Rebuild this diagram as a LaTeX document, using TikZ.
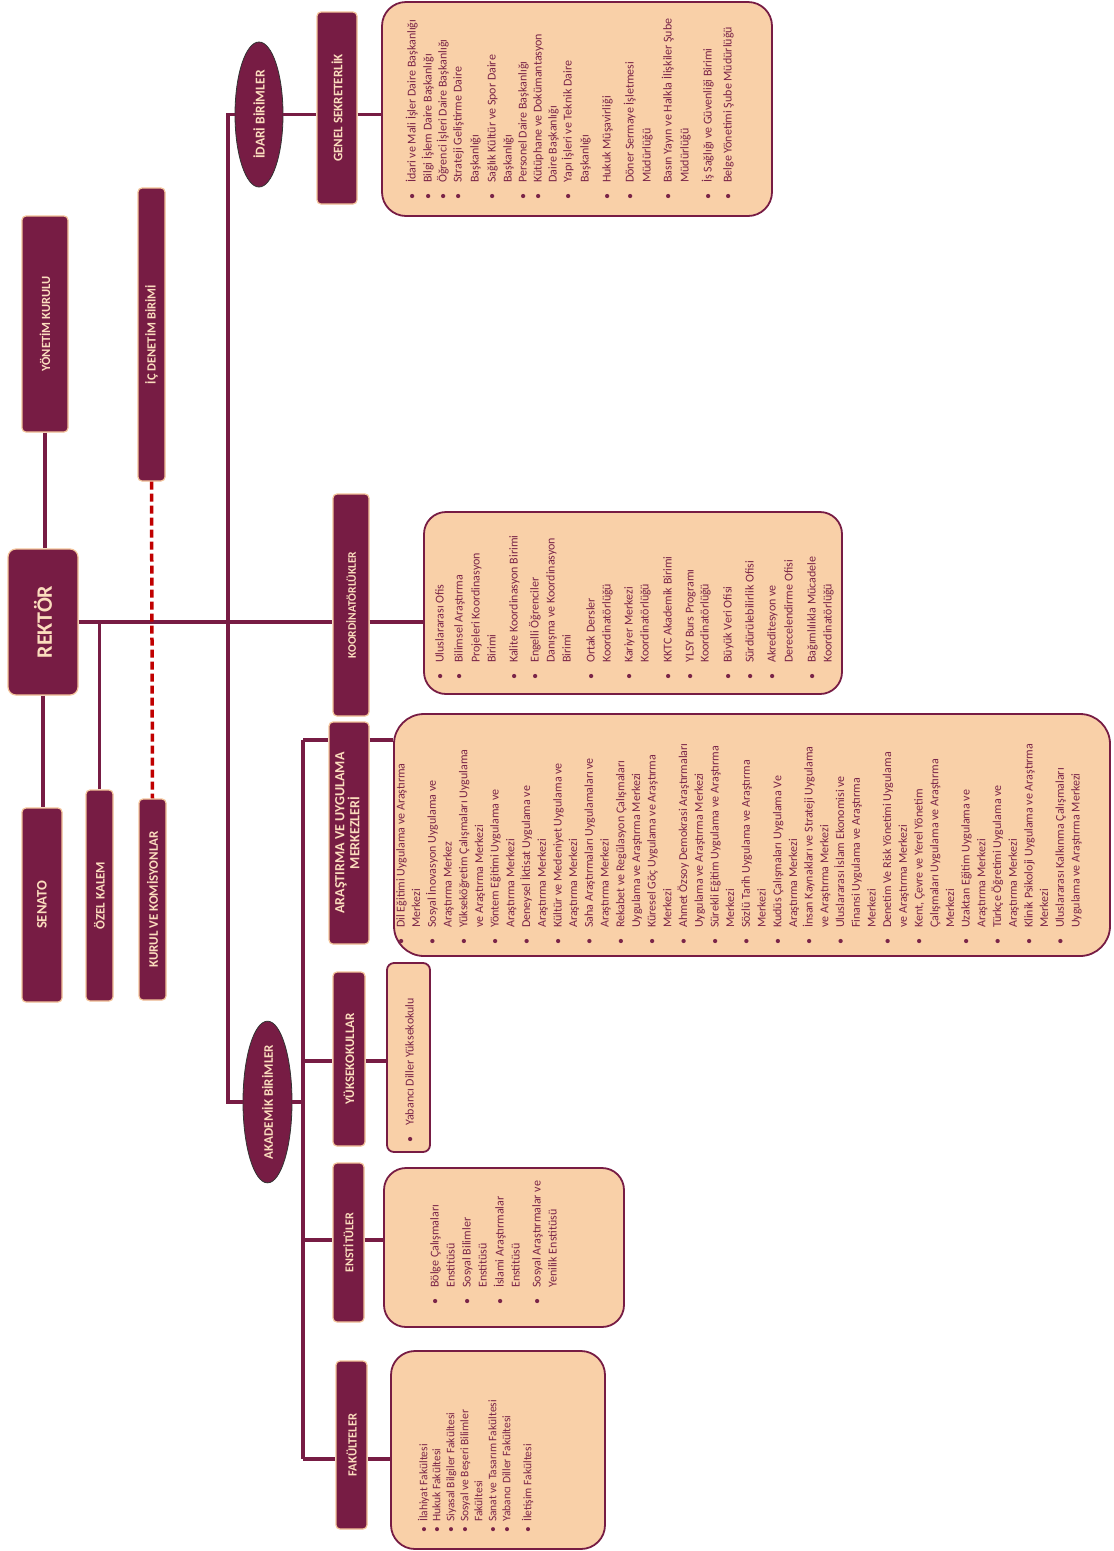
\documentclass[tikz,border=0pt]{standalone}
\usepackage{fontspec}
\setmainfont{Carlito}
\usetikzlibrary{shapes.geometric}
\definecolor{mrn}{HTML}{771C44}
\definecolor{ptxt}{HTML}{FBDDBE}
\definecolor{pfill}{HTML}{F9D0A8}
\definecolor{glow}{HTML}{F4C49A}
\definecolor{dred}{HTML}{C00000}
\definecolor{ltxt}{HTML}{7A2448}
\newcommand{\itm}[2][17pt]{\makebox[#1][l]{\textbullet}#2}
\newcommand{\cnt}[2][17pt]{\hspace*{#1}#2}
\tikzset{
  hdr/.style={draw=glow, line width=1.2pt, fill=mrn, rounded corners=4pt, text=ptxt,
    font=\bfseries\fontsize{#1}{#1}\selectfont, inner sep=0pt, align=center},
  hdr/.default=12.5,
  ell/.style={ellipse, draw=black!80, line width=0.8pt, fill=mrn, text=ptxt,
    font=\bfseries\fontsize{#1}{#1}\selectfont, inner sep=0pt},
  lbox/.style={draw=mrn, line width=1.8pt, fill=pfill, rounded corners=#1, inner sep=0pt},
  ltext/.style={rotate=90, anchor=north west, inner sep=0pt, align=left, text=ltxt,
    font=\fontsize{12}{#1}\selectfont},
  conn/.style={draw=mrn, line width=3.2pt},
  rdash/.style={draw=dred, line width=3.5pt, dash pattern=on 8pt off 4pt},
}
\begin{document}
\begin{tikzpicture}[x=1pt, y=-1pt]
\useasboundingbox (0,0) rectangle (1114,1551);
\fill[white] (0,0) rectangle (1114,1551);

% ---- dark header nodes ----
\node[hdr=12.5, minimum width=46pt, minimum height=216pt] (yk) at (45,324) {\rotatebox{90}{YÖNETİM KURULU}};
\node[hdr=12.5, minimum width=27pt, minimum height=293pt] (icd) at (151.5,334.5) {\rotatebox{90}{İÇ DENETİM BİRİMİ}};
\node[hdr=22, minimum width=70pt, minimum height=146pt, rounded corners=8pt] (rektor) at (43,622) {\rotatebox{90}{REKTÖR}};
\node[hdr=14.5, minimum width=40pt, minimum height=194pt] (senato) at (42,905) {\rotatebox{90}{SENATO}};
\node[hdr=13, minimum width=27pt, minimum height=211pt] (ozel) at (99.5,895.5) {\rotatebox{90}{ÖZEL KALEM}};
\node[hdr=13, minimum width=27pt, minimum height=201pt] (kurul) at (152.5,899.5) {\rotatebox{90}{KURUL VE KOMİSYONLAR}};
\node[hdr=13, minimum width=40pt, minimum height=192pt] (gs) at (337,108) {\rotatebox{90}{GENEL SEKRETERLİK}};
\node[hdr=11.5, minimum width=36pt, minimum height=222pt] (koord) at (351,605) {\rotatebox{90}{KOORDİNATÖRLÜKLER}};
\node[hdr=14, minimum width=40pt, minimum height=222pt] (arast) at (349,833) {\rotatebox{90}{\begin{tabular}{@{}c@{}}ARAŞTIRMA VE UYGULAMA\\[-1pt] MERKEZLERİ\end{tabular}}};
\node[hdr=13, minimum width=32pt, minimum height=174pt] (yuksek) at (349,1059) {\rotatebox{90}{YÜKSEKOKULLAR}};
\node[hdr=12, minimum width=31pt, minimum height=159pt] (enst) at (348.5,1242.5) {\rotatebox{90}{ENSTİTÜLER}};
\node[hdr=12.5, minimum width=31pt, minimum height=168pt] (fak) at (351.5,1445) {\rotatebox{90}{FAKÜLTELER}};

% ---- ellipses ----
\node[ell=13.5, minimum width=48pt, minimum height=145pt] (idari) at (259,114.5) {\rotatebox{90}{İDARİ BİRİMLER}};
\node[ell=13, minimum width=49pt, minimum height=140pt] (akad) at (267.5,1102) {\rotatebox{90}{AKADEMİK BİRİMLER}};

% ---- light boxes ----
\node[lbox=24pt, minimum width=390pt, minimum height=214pt] (gbox) at (577,109) {};
\node[lbox=22pt, minimum width=418pt, minimum height=182pt] (kbox) at (633,603) {};
\node[lbox=30pt, minimum width=716pt, minimum height=242pt] (abox) at (752,835) {};
\node[lbox=7pt, minimum width=43pt, minimum height=189pt] (ybox) at (408.5,1057.5) {};
\node[lbox=22pt, minimum width=240pt, minimum height=159pt] (ebox) at (504,1247.5) {};
\node[lbox=24pt, minimum width=214pt, minimum height=198pt] (fbox) at (498,1450) {};

% ---- list texts ----
\node[ltext=15.5] (gtext) at (404.5,200) {\strut\itm{İdari ve Mali İşler Daire Başkanlığı}\\[0.5pt]
\itm{Bilgi İşlem Daire Başkanlığı}\\[-0.5pt]
\itm{Öğrenci İşleri Daire Başkanlığı}\\[-0.5pt]
\itm{Strateji Geliştirme Daire}\\[1.5pt]
\cnt{Başkanlığı}\\[1.5pt]
\itm{Sağlık Kültür ve Spor Daire}\\[0.5pt]
\cnt{Başkanlığı}\\[-0.5pt]
\itm{Personel Daire Başkanlığı}\\[-0.5pt]
\itm{Kütüphane ve Dokümantasyon}\\[-0.5pt]
\cnt{Daire Başkanlığı}\\[-0.5pt]
\itm{Yapı İşleri ve Teknik Daire}\\[1.5pt]
\cnt{Başkanlığı}\\[6.5pt]
\itm{Hukuk Müşavirliği}\\[7.5pt]
\itm{Döner Sermaye İşletmesi}\\[1.5pt]
\cnt{Müdürlüğü}\\[5.5pt]
\itm{Basın Yayın ve Halkla İlişkiler Şube}\\[1.5pt]
\cnt{Müdürlüğü}\\[7.5pt]
\itm{İş Sağlığı ve Güvenliği Birimi}\\[4.5pt]
\itm{Belge Yönetimi Şube Müdürlüğü}};

\node[ltext=16] (ktext) at (432.1,680) {\strut\itm{Uluslararası Ofis}\\[3pt]
\itm{Bilimsel Araştırma}\\[1pt]
\cnt{Projeleri Koordinasyon}\\
\cnt{Birimi}\\[6pt]
\itm{Kalite Koordinasyon Birimi}\\[5pt]
\itm{Engelli Öğrenciler}\\
\cnt{Danışma ve Koordinasyon}\\
\cnt{Birimi}\\[8pt]
\itm{Ortak Dersler}\\
\cnt{Koordinatörlüğü}\\[6pt]
\itm{Kariyer Merkezi}\\
\cnt{Koordinatörlüğü}\\[7pt]
\itm{KKTC Akademik Birimi}\\[6pt]
\itm{YLSY Burs Programı}\\[-1pt]
\cnt{Koordinatörlüğü}\\[7pt]
\itm{Büyük Veri Ofisi}\\[6pt]
\itm{Sürdürülebilirlik Ofisi}\\[6pt]
\itm{Akreditesyon ve}\\[1pt]
\cnt{Derecelendirme Ofisi}\\[7pt]
\itm{Bağımlılıkla Mücadele}\\
\cnt{Koordinatörlüğü}};

\node[ltext=15.7] (atext) at (393.3,945) {\strut\itm{Dil Eğitimi Uygulama ve Araştırma}\\
\cnt{Merkezi}\\
\itm{Sosyal İnovasyon Uygulama ve}\\
\cnt{Araştırma Merkez}\\
\itm{Yükseköğretim Çalışmaları Uygulama}\\
\cnt{ve Araştırma Merkezi}\\
\itm{Yöntem Eğitimi Uygulama ve}\\
\cnt{Araştırma Merkezi}\\
\itm{Deneysel İktisat Uygulama ve}\\
\cnt{Araştırma Merkezi}\\
\itm{Kültür ve Medeniyet Uygulama ve}\\
\cnt{Araştırma Merkezi}\\
\itm{Saha Araştırmaları Uygulamaları ve}\\
\cnt{Araştırma Merkezi}\\
\itm{Rekabet ve Regülasyon Çalışmaları}\\
\cnt{Uygulama ve Araştırma Merkezi}\\
\itm{Küresel Göç Uygulama ve Araştırma}\\
\cnt{Merkezi}\\
\itm{Ahmet Özsoy Demokrasi Araştırmaları}\\
\cnt{Uygulama ve Araştırma Merkezi}\\
\itm{Sürekli Eğitim Uygulama ve Araştırma}\\
\cnt{Merkezi}\\
\itm{Sözlü Tarih Uygulama ve Araştırma}\\
\cnt{Merkezi}\\
\itm{Kudüs Çalışmaları Uygulama Ve}\\
\cnt{Araştırma Merkezi}\\
\itm{İnsan Kaynakları ve Strateji Uygulama}\\
\cnt{ve Araştırma Merkezi}\\
\itm{Uluslararası İslam Ekonomisi ve}\\
\cnt{Finansi Uygulama ve Araştırma}\\
\cnt{Merkezi}\\
\itm{Denetim Ve Risk Yönetimi Uygulama}\\
\cnt{ve Araştırma Merkezi}\\
\itm{Kent, Çevre ve Yerel Yönetim}\\
\cnt{Çalışmaları Uygulama ve Araştırma}\\
\cnt{Merkezi}\\
\itm{Uzaktan Eğitim Uygulama ve}\\
\cnt{Araştırma Merkezi}\\
\itm{Türkçe Öğretimi Uygulama ve}\\
\cnt{Araştırma Merkezi}\\
\itm{Klinik Psikoloji Uygulama ve Araştırma}\\
\cnt{Merkezi}\\
\itm{Uluslararası Kalkınma Çalışmaları}\\
\cnt{Uygulama ve Araştırma Merkezi}};

\node[ltext=15.5] (ytext) at (402.5,1143) {\strut\itm{Yabancı Diller Yüksekokulu}};

\node[ltext=16] (etext) at (427.1,1305) {\strut\itm{Bölge Çalışmaları}\\
\cnt{Enstitüsü}\\
\itm{Sosyal Bilimler}\\
\cnt{Enstitüsü}\\[1pt]
\itm{İslami Araştırmalar}\\
\cnt{Enstitüsü}\\[5pt]
\itm{Sosyal Araştırmalar ve}\\
\cnt{Yenilik Enstitüsü}};

\node[ltext=14, font=\fontsize{11.5}{14}\selectfont] (ftext) at (417.4,1533) {\strut\itm[11pt]{İlahiyat Fakültesi}\\[-1pt]
\itm[11pt]{Hukuk Fakültesi}\\
\itm[11pt]{Siyasal Bilgiler Fakültesi}\\
\itm[11pt]{Sosyal ve Beşeri Bilimler}\\
\cnt[11pt]{Fakültesi}\\
\itm[11pt]{Sanat ve Tasarım Fakültesi}\\
\itm[11pt]{Yabancı Diller Fakültesi}\\[7pt]
\itm[11pt]{İletişim Fakültesi}};

% ---- junction coordinates ----
\coordinate (vtop) at (228,114.5);
\coordinate (atop) at (303,740);
\coordinate (brY) at (303,1061);
\coordinate (brE) at (303,1240);
\coordinate (brF) at (303,1459);

% ---- connectors ----
\draw[conn] (yk.south) -- (yk.south |- rektor.north);
\draw[conn] (rektor.south) -- (rektor.south |- senato.north);
\draw[conn] (rektor.east) -- (rektor.east -| koord.west);
\draw[conn] (rektor.east -| koord.east) -- (rektor.east -| kbox.west);
\draw[conn] (ozel.north) -- (ozel.north |- rektor.east);
\draw[rdash] (icd.south) -- (kurul.north);
\draw[conn, line join=miter] (idari.west) -- (vtop) -- (vtop |- akad.west) -- (akad.west);
\draw[conn] (idari.east) -- (idari.east -| gs.west);
\draw[conn] (idari.east -| gs.east) -- (idari.east -| gbox.west);
\draw[conn] (akad.east) -- (akad.east -| atop);
\draw[conn] (atop) -- (brF);
\draw[conn] (atop) -- (atop -| arast.west);
\draw[conn] (atop -| arast.east) -- (atop -| abox.west);
\draw[conn] (brY) -- (brY -| yuksek.west);
\draw[conn] (brY -| yuksek.east) -- (brY -| ybox.west);
\draw[conn] (brE) -- (brE -| enst.west);
\draw[conn] (brE -| enst.east) -- (brE -| ebox.west);
\draw[conn] (brF) -- (brF -| fak.west);
\draw[conn] (brF -| fak.east) -- (brF -| fbox.west);
\end{tikzpicture}
\end{document}
